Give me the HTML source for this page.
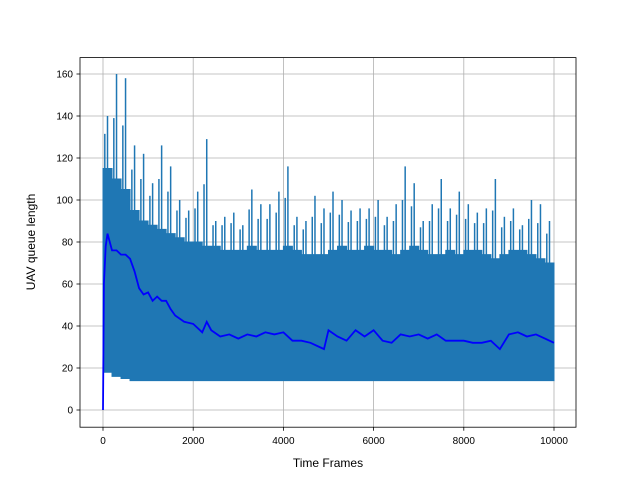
<!DOCTYPE html>
<html><head><meta charset="utf-8"><style>
body{margin:0;background:#fff}svg{display:block}
text{font-family:"Liberation Sans","DejaVu Sans",sans-serif;font-size:10px;fill:#000}
</style></head><body>
<svg width="640" height="480">
<g id="grid"></g>
<g id="band"></g>
<g id="avg"></g>
<rect x="80" y="57.6" width="496" height="369.6" fill="none" stroke="#000" stroke-width="0.8"/>
<g id="ticks"></g>
<text x="328" y="467" text-anchor="middle" style="font-size:12px">Time Frames</text>
<text x="0" y="0" text-anchor="middle" transform="translate(35,242) rotate(-90)" style="font-size:12px">UAV queue length</text>
</svg>
<script>
const xTicks=[0,2000,4000,6000,8000,10000];
const yTicks=[0,20,40,60,80,100,120,140,160];
const binStart=[0,200,400,600,800,1000,1200,1400,1600,1800,2000,2200,2400,2600,2800,3000,3200,3400,3600,3800,4000,4200,4400,4600,4800,5000,5200,5400,5600,5800,6000,6200,6400,6600,6800,7000,7200,7400,7600,7800,8000,8200,8400,8600,8800,9000,9200,9400,9600,9800];
const denseTop=[115,110,105,95,90,88,86,84,82,80,80,78,78,76,76,76,78,76,76,76,78,76,74,74,74,76,78,76,76,78,76,76,74,76,78,76,74,74,76,74,76,76,74,72,74,76,76,74,72,70];
const binMin=[18,16,15,14,14,14,14,14,14,14,14,14,14,14,14,14,14,14,14,14,14,14,14,14,14,14,14,14,14,14,14,14,14,14,14,14,14,14,14,14,14,14,14,14,14,14,14,14,14,14];
const spikeMax=[140,160,158,126,122,108,126,116,100,95,104,129,90,92,94,88,105,98,98,104,116,92,90,102,96,104,100,95,96,96,100,92,98,116,108,90,98,110,96,104,98,94,96,110,92,96,88,100,98,90];
const avgX=[0,20,60,100,200,300,400,500,600,700,800,900,1000,1100,1200,1300,1400,1500,1600,1800,2000,2200,2300,2400,2600,2800,3000,3200,3400,3600,3800,4000,4200,4400,4600,4800,4900,5000,5200,5400,5600,5800,6000,6200,6400,6600,6800,7000,7200,7400,7600,7800,8000,8200,8400,8600,8800,9000,9200,9400,9600,9800,10000];
const avgY=[0,60,78,84,76,76,74,74,72,66,58,55,56,52,54,52,52,48,45,42,41,37,42,38,35,36,34,36,35,37,36,37,33,33,32,30,29,38,35,33,38,35,38,33,32,36,35,36,34,36,33,33,33,32,32,33,29,36,37,35,36,34,32];
const ns="http://www.w3.org/2000/svg";
const X=v=>103+v*0.0451, Y=v=>410-v*2.1;
function mk(t,a,p){const e=document.createElementNS(ns,t);for(const k in a)e.setAttribute(k,a[k]);p.appendChild(e);return e;}
const grid=document.getElementById('grid'),ticks=document.getElementById('ticks');
xTicks.forEach(v=>{
 const g=mk('line',{x1:X(v),x2:X(v),y1:57.6,y2:427.2,stroke:'#b0b0b0','stroke-width':0.8},grid);
 
 
 const t=mk('line',{x1:X(v),x2:X(v),y1:427.2,y2:430.7,stroke:'#000','stroke-width':0.8},ticks);
 
 
 const l=mk('text',{x:X(v),y:444,'text-anchor':'middle'},ticks);l.textContent=v;
 
 
});
yTicks.forEach(v=>{
 const g=mk('line',{x1:80,x2:576,y1:Y(v),y2:Y(v),stroke:'#b0b0b0','stroke-width':0.8},grid);
 
 
 const t=mk('line',{x1:76.5,x2:80,y1:Y(v),y2:Y(v),stroke:'#000','stroke-width':0.8},ticks);
 
 
 const l=mk('text',{x:73,y:Y(v)+3.5,'text-anchor':'end'},ticks);l.textContent=v;
 
 
});
const band=document.getElementById('band');
const topPts=[],botPts=[];
binStart.forEach((s,i)=>{const e=Math.min(s+200,10000);
 topPts.push(X(s)+','+Y(denseTop[i]),X(e)+','+Y(denseTop[i]));
 botPts.unshift(X(e)+','+Y(binMin[i]),X(s)+','+Y(binMin[i]));});
const poly=mk('polygon',{points:topPts.concat(botPts).join(' '),fill:'#1f77b4',stroke:'#1f77b4','stroke-width':1},band);


binStart.forEach((s,i)=>{
 const sp=mk('line',{x1:X(s+100),x2:X(s+100),y1:Y(denseTop[i]),y2:Y(spikeMax[i]),stroke:'#1f77b4','stroke-width':1.5},band);
 
 
 const sp2=mk('line',{x1:X(s+40),x2:X(s+40),y1:Y(denseTop[i]),y2:Y((denseTop[i]+spikeMax[i])/2+4),stroke:'#1f77b4','stroke-width':1.5},band);
 
 
});
const avg=mk('polyline',{points:avgX.map((v,i)=>X(v)+','+Y(avgY[i])).join(' '),fill:'none',stroke:'#0000ff','stroke-width':1.8},document.getElementById('avg'));


</script>
</body></html>
